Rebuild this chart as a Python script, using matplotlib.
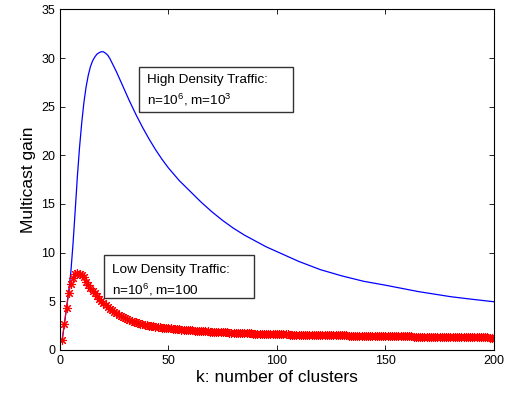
import numpy as np
import matplotlib
matplotlib.use('Agg')
import matplotlib.pyplot as plt
from matplotlib.patches import Rectangle

plt.rcParams['font.family'] = ['Liberation Sans', 'DejaVu Sans']
plt.rcParams['mathtext.fontset'] = 'custom'
plt.rcParams['mathtext.rm'] = 'Liberation Sans'
plt.rcParams['mathtext.default'] = 'regular'

# high density traffic curve
k_high = [1, 2, 3, 4, 5, 6, 7, 8, 9, 10, 11, 12, 13, 14, 15, 16, 17, 18, 19, 20,
          21, 22, 23, 24, 26, 28, 30, 32, 35, 38, 41, 44, 47, 50, 55, 60, 65, 70,
          75, 80, 85, 90, 95, 100, 110, 120, 130, 140, 150, 165, 180, 190, 200]
gain_high = [1.0, 2.6, 4.3, 6.0, 8.0, 10.9, 14.3, 17.8, 20.8, 23.3, 25.4, 27.0, 28.2,
             29.1, 29.7, 30.1, 30.4, 30.55, 30.65, 30.65, 30.5, 30.3, 29.95, 29.5,
             28.6, 27.6, 26.6, 25.6, 24.2, 22.9, 21.7, 20.6, 19.6, 18.7, 17.4, 16.3,
             15.2, 14.2, 13.3, 12.5, 11.8, 11.2, 10.6, 10.1, 9.1, 8.25, 7.6, 7.05,
             6.65, 6.0, 5.47, 5.2, 4.95]

# low density traffic, one value per k = 1..200
k_low = list(range(1, 201))
gain_low = [
    1.00, 2.70, 4.30, 5.80, 6.80, 7.40, 7.75, 7.90, 7.85, 7.70,
    7.45, 7.00, 6.70, 6.40, 6.10, 5.80, 5.50, 5.25, 5.00, 4.80,
    4.60, 4.40, 4.20, 4.05, 3.90, 3.75, 3.60, 3.45, 3.35, 3.25,
    3.15, 3.05, 2.97, 2.90, 2.83, 2.76, 2.70, 2.64, 2.59, 2.54,
    2.50, 2.46, 2.42, 2.39, 2.36, 2.33, 2.30, 2.27, 2.24, 2.22,
    2.20, 2.17, 2.15, 2.13, 2.11, 2.09, 2.07, 2.05, 2.03, 2.01,
    2.00, 1.98, 1.96, 1.95, 1.93, 1.92, 1.90, 1.89, 1.88, 1.86,
    1.85, 1.84, 1.83, 1.82, 1.81, 1.80, 1.79, 1.78, 1.77, 1.76,
    1.75, 1.74, 1.73, 1.72, 1.71, 1.71, 1.70, 1.69, 1.68, 1.68,
    1.67, 1.66, 1.66, 1.65, 1.64, 1.64, 1.63, 1.63, 1.62, 1.61,
    1.61, 1.60, 1.60, 1.59, 1.59, 1.58, 1.58, 1.57, 1.57, 1.56,
    1.56, 1.55, 1.55, 1.54, 1.54, 1.54, 1.53, 1.53, 1.52, 1.52,
    1.52, 1.51, 1.51, 1.50, 1.50, 1.50, 1.49, 1.49, 1.49, 1.48,
    1.48, 1.48, 1.47, 1.47, 1.47, 1.46, 1.46, 1.46, 1.45, 1.45,
    1.45, 1.45, 1.44, 1.44, 1.44, 1.43, 1.43, 1.43, 1.43, 1.42,
    1.42, 1.41, 1.41, 1.41, 1.40, 1.40, 1.40, 1.39, 1.39, 1.39,
    1.38, 1.38, 1.37, 1.37, 1.37, 1.36, 1.36, 1.36, 1.35, 1.35,
    1.35, 1.34, 1.34, 1.34, 1.33, 1.33, 1.33, 1.32, 1.32, 1.32,
    1.31, 1.31, 1.31, 1.31, 1.30, 1.30, 1.30, 1.30, 1.29, 1.29,
    1.29, 1.29, 1.28, 1.28, 1.28, 1.28, 1.28, 1.27, 1.27, 1.27,
]

x_ticks = [0, 50, 100, 150, 200]
y_ticks = [0, 5, 10, 15, 20, 25, 30, 35]

high_lines = ['High Density Traffic:', 'n=10$^6$, m=10$^3$']
low_lines = ['Low Density Traffic:', 'n=10$^6$, m=100']

fig = plt.figure(figsize=(5.15, 3.94), dpi=100)
ax = fig.add_axes([0.1165, 0.112, 0.8425, 0.864])

ax.plot(k_high, gain_high, color='blue', linewidth=0.9)
ax.plot(k_low, gain_low, linestyle='-', color='red', linewidth=0.8,
        marker=(8, 2, 0), markersize=6.5, markeredgewidth=0.8)

ax.set_xlim(0, 200)
ax.set_ylim(0, 35)
ax.set_xticks(x_ticks)
ax.set_yticks(y_ticks)
ax.tick_params(direction='in', top=True, right=True, labelsize=9, length=3.5,
               width=0.6)
for s in ax.spines.values():
    s.set_linewidth(0.8)

ax.set_xlabel('k: number of clusters', fontsize=12.5, labelpad=2)
ax.set_ylabel('Multicast gain', fontsize=12.5, labelpad=4)


def text_box(x0, y0, x1, y1, tx, ty, lines):
    # MATLAB-style annotation box: fixed rectangle with text lines inside
    ax.add_patch(Rectangle((x0, y0), x1 - x0, y1 - y0, transform=ax.transAxes,
                           facecolor='white', edgecolor='#333333', linewidth=1.0,
                           zorder=5))
    for i, line in enumerate(lines):
        ax.text(tx, ty[i], line, transform=ax.transAxes, fontsize=9.7,
                va='baseline', ha='left', zorder=6)


text_box(0.182, 0.700, 0.5375, 0.832, 0.1998, (0.7832, 0.7195), high_lines)
text_box(0.1007, 0.152, 0.447, 0.279, 0.119, (0.2253, 0.1615), low_lines)

fig.savefig('out.png', dpi=100)
